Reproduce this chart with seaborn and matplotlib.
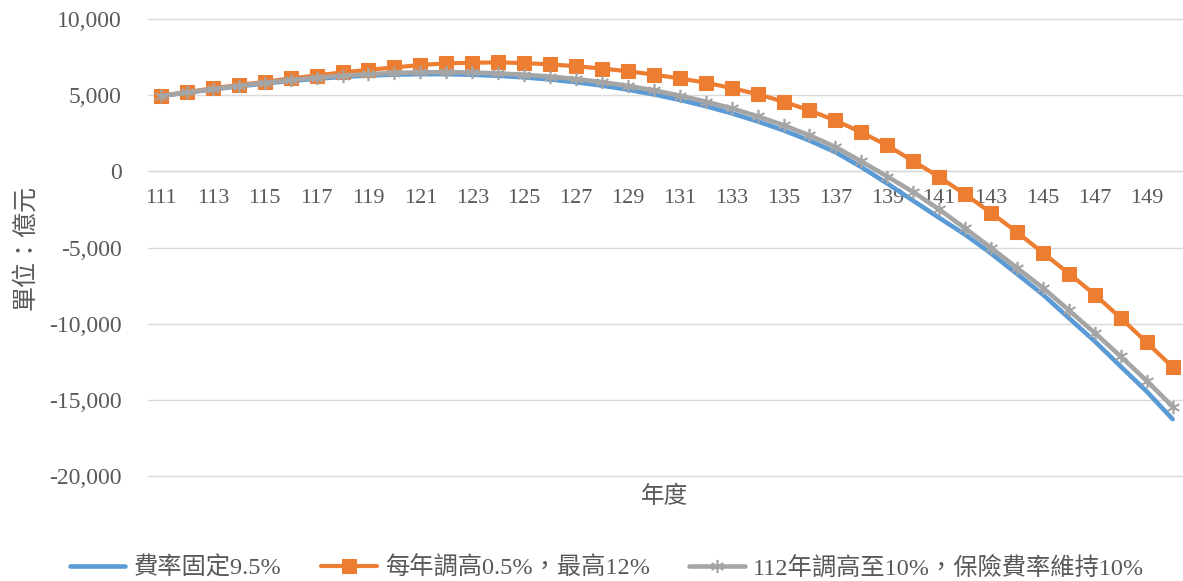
import matplotlib
matplotlib.use("Agg")
import matplotlib.pyplot as plt
from matplotlib.ticker import FuncFormatter
import seaborn as sns

# ---------------- data ----------------
years = list(range(111, 151))

fixed_rate = [4950, 5170, 5380, 5580, 5770, 5940, 6080, 6200, 6290, 6350,
              6380, 6380, 6340, 6270, 6170, 6030, 5850, 5630, 5360, 5050,
              4690, 4280, 3810, 3280, 2690, 2020, 1260, 280, -800, -1930,
              -3050, -4150, -5390, -6730, -8090, -9630, -11160, -12810, -14450, -16270]

annual_raise = [4950, 5200, 5450, 5670, 5880, 6100, 6290, 6500, 6660, 6820,
                6980, 7090, 7130, 7150, 7110, 7020, 6900, 6750, 6570, 6350,
                6100, 5820, 5470, 5060, 4580, 4000, 3340, 2560, 1700, 670,
                -370, -1510, -2720, -3990, -5350, -6710, -8090, -9630, -11230, -12850]

raise_to_10 = [4950, 5180, 5400, 5620, 5820, 6000, 6150, 6280, 6380, 6460,
               6500, 6510, 6490, 6430, 6340, 6220, 6060, 5860, 5610, 5320,
               4970, 4580, 4140, 3610, 3030, 2360, 1600, 650, -340, -1360,
               -2500, -3740, -5020, -6340, -7650, -9120, -10610, -12150, -13750, -15440]

series_names = ["費率固定9.5%", "每年調高0.5%，最高12%", "112年調高至10%，保險費率維持10%"]
y_ticks = [10000, 5000, 0, -5000, -10000, -15000, -20000]
x_tick_years = list(range(111, 151, 2))
x_label = "年度"
y_label = "單位：億元"

# ---------------- style ----------------
sns.set_theme(style="white")
plt.rcParams["font.family"] = ["Liberation Serif", "Noto Sans CJK TC", "DejaVu Sans"]
TXT = "#595959"

fig = plt.figure(figsize=(11.83, 5.81), dpi=100)
ax = fig.add_axes([148 / 1183, (581 - 476) / 581, (1183 - 148) / 1183, 457 / 581])

idx = list(range(len(years)))

sns.lineplot(x=idx, y=fixed_rate, ax=ax, color="#5B9BD5", linewidth=3.3,
             label=series_names[0], solid_capstyle="round", zorder=3)
sns.lineplot(x=idx, y=annual_raise, ax=ax, color="#ED7D31", linewidth=3.0,
             marker="s", markersize=9.5, markeredgecolor="#ED7D31",
             markerfacecolor="#ED7D31", label=series_names[1], zorder=4)
sns.lineplot(x=idx, y=raise_to_10, ax=ax, color="#A5A5A5", linewidth=3.3,
             marker=(6, 2, 0), markersize=9.5, markeredgewidth=1.2,
             markeredgecolor="#A5A5A5", label=series_names[2], zorder=5)

ax.set_xlim(-0.5, 39.4)
ax.set_ylim(-20000, 10000)
ax.set_yticks(y_ticks)
ax.yaxis.set_major_formatter(FuncFormatter(lambda v, p: f"{v:,.0f}"))
ax.set_xticks([years.index(y) for y in x_tick_years])
ax.set_xticklabels([str(y) for y in x_tick_years])

ax.grid(axis="y", color="#D9D9D9", linewidth=1.0)
ax.grid(axis="x", visible=False)
for gl in ax.get_ygridlines():
    gl.set_clip_on(False)
for s in ["top", "right", "left"]:
    ax.spines[s].set_visible(False)
ax.spines["bottom"].set_position(("data", 0))
ax.spines["bottom"].set_color("#D9D9D9")
ax.spines["bottom"].set_linewidth(1.0)

ax.tick_params(axis="y", length=0, pad=19, labelsize=17, labelcolor=TXT)
ax.tick_params(axis="x", length=0, pad=13, labelsize=16, labelcolor=TXT)
ax.set_xlabel("")
ax.set_ylabel("")

fig.text(665 / 1183, 1 - 497 / 581, x_label, ha="center", va="center",
         fontsize=17, color=TXT)
fig.text(25 / 1183, 1 - 248 / 581, y_label, ha="center", va="center",
         rotation=90, fontsize=18, color=TXT)

leg = ax.legend(loc="center", bbox_to_anchor=(607 / 1183, 1 - 568 / 581),
                bbox_transform=fig.transFigure, ncol=3, frameon=False,
                fontsize=17.5, handlelength=2.3, handletextpad=0.35,
                columnspacing=1.6)
for t in leg.get_texts():
    t.set_color(TXT)

fig.savefig("out.png", dpi=100)
